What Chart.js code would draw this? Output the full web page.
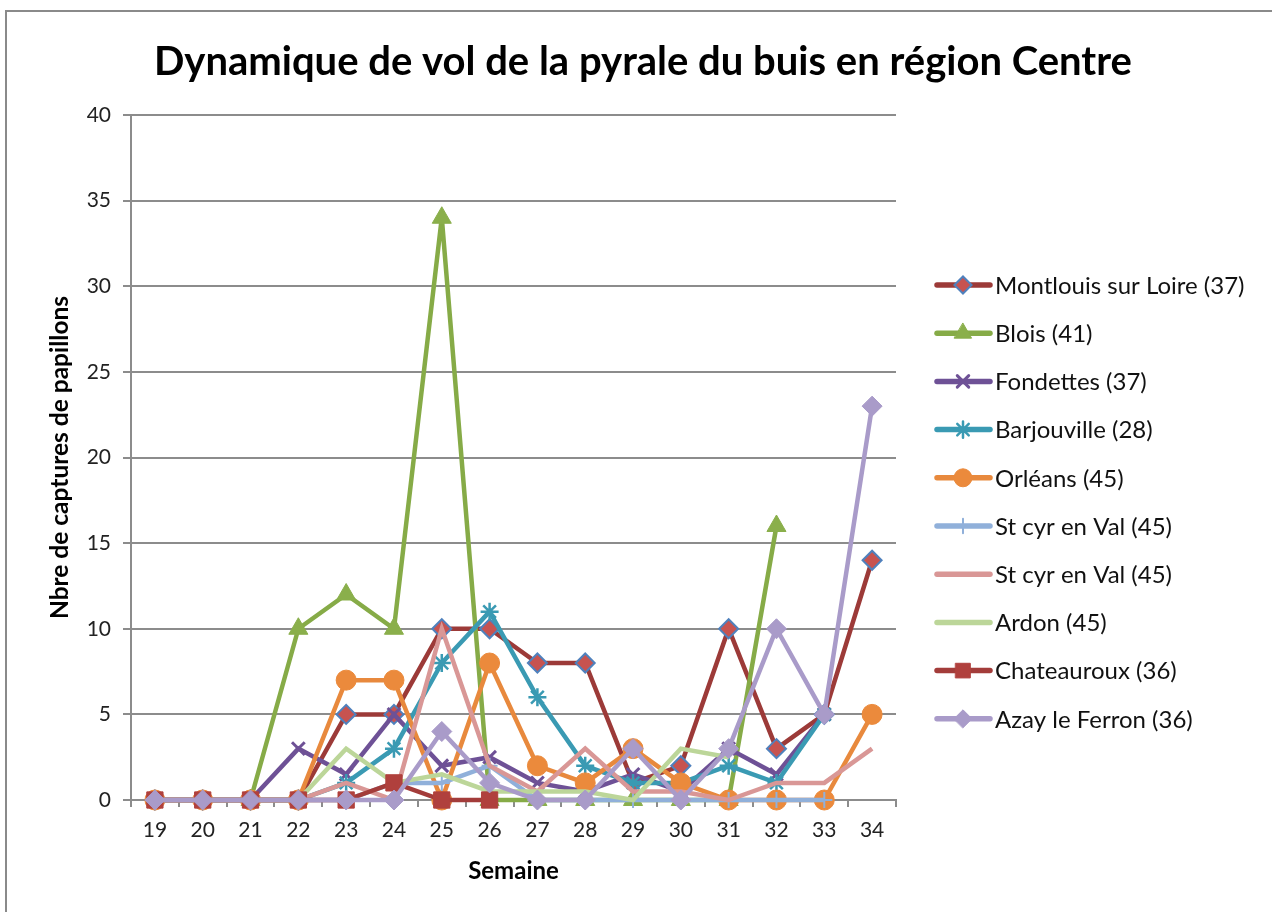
<!DOCTYPE html>
<html><head><meta charset="utf-8">
<script src="https://cdn.jsdelivr.net/npm/chart.js@4.4.1/dist/chart.umd.min.js"></script>
<style>html,body{margin:0;padding:0;background:#fff}canvas{display:block}</style>
</head><body>
<canvas id="c" width="1272" height="912"></canvas>
<script>
const weeks = ['19','20','21','22','23','24','25','26','27','28','29','30','31','32','33','34'];
const montlouis   = [0,0,0,0,5,5,10,10,8,8,1,2,10,3,5,14];
const blois       = [null,null,0,10,12,10,34,0,0,0,0,0,0,16,null,null];
const fondettes   = [0,0,0,3,1.5,5,2,2.5,1,0.5,1.5,0.5,3,1.5,5,null];
const barjouville = [0,0,0,0,1,3,8,11,6,2,1,1,2,1,5,null];
const orleans     = [0,0,0,0,7,7,0,8,2,1,3,1,0,0,0,5];
const stcyr1      = [0,0,0,0,0,1,1,2,0,0,0,0,0,0,0,null];
const stcyr2      = [0,0,0,0,1,0,10,2,0.5,3,0.5,0.5,0,1,1,3];
const ardon       = [0,0,0,0,3,1,1.5,0.5,0.5,0.5,0,3,2.5,null,null,null];
const chateauroux = [0,0,0,0,0,1,0,0,null,null,null,null,null,null,null,null];
const azay        = [0,0,0,0,0,0,4,1,0,0,3,0,3,10,5,23];
const seriesNames = ['Montlouis sur Loire (37)','Blois (41)','Fondettes (37)','Barjouville (28)','Orléans (45)','St cyr en Val (45)','St cyr en Val (45)','Ardon (45)','Chateauroux (36)','Azay le Ferron (36)'];
const chartTitle = 'Dynamique de vol de la pyrale du buis en région Centre';
const yMin = 0, yMax = 40, yStep = 5;

const styles = [
  {line:'#9C3A38', style:'rectRot', r:9.5, fill:'#C75350', border:'#4F81BD', bw:2},
  {line:'#86AB47', style:'triangle', r:11, fill:'#8AAF4B', border:'#8AAF4B', bw:1},
  {line:'#6E5196', style:'crossRot', r:9, fill:'#6E5196', border:'#6E5196', bw:3},
  {line:'#3A9AB3', style:'star', r:9, fill:'#3A9AB3', border:'#3A9AB3', bw:2.5},
  {line:'#E8893D', style:'circle', r:10, fill:'#EB8A3C', border:'#EB8A3C', bw:1},
  {line:'#90B0DA', style:'cross', r:8, fill:'#90B0DA', border:'#90B0DA', bw:2},
  {line:'#D99796', style:'circle', r:0, fill:'#D99796', border:'#D99796', bw:0},
  {line:'#BCD699', style:'circle', r:0, fill:'#BCD699', border:'#BCD699', bw:0},
  {line:'#A33C3A', style:'rect', r:11.5, fill:'#B0403D', border:'#B0403D', bw:1},
  {line:'#A99BC9', style:'rectRot', r:10, fill:'#A99BC9', border:'#A99BC9', bw:1}
];
const values = [montlouis,blois,fondettes,barjouville,orleans,stcyr1,stcyr2,ardon,chateauroux,azay];

const datasets = values.map((v,i)=>({
  label: seriesNames[i],
  data: v,
  borderColor: styles[i].line,
  borderWidth: 4.5,
  pointStyle: styles[i].style,
  pointRadius: styles[i].r,
  pointHoverRadius: styles[i].r,
  pointBackgroundColor: styles[i].fill,
  pointBorderColor: styles[i].border,
  pointBorderWidth: styles[i].bw,
  tension: 0,
  spanGaps: false,
  order: values.length - 1 - i,
  clip: false
}));

const frame = {
  id:'frame',
  beforeDraw(chart){
    const ctx = chart.ctx;
    ctx.save(); ctx.fillStyle='#fff'; ctx.fillRect(0,0,chart.width,chart.height); ctx.restore();
  },
  afterDraw(chart){
    const ctx = chart.ctx;
    ctx.save();
    ctx.strokeStyle='#8a8a8a'; ctx.lineWidth=2;
    ctx.strokeRect(6,11,1400,1000);
    ctx.fillStyle='#000'; ctx.font='bold 40px Lato'; ctx.textAlign='center'; ctx.textBaseline='middle';
    ctx.fillText(chartTitle, 643, 62);
    chart.data.datasets.forEach((ds,i)=>{
      const y = 285 + i*48.2;
      ctx.strokeStyle = ds.borderColor; ctx.lineWidth = 5.5; ctx.lineCap='round';
      ctx.beginPath(); ctx.moveTo(937,y); ctx.lineTo(990,y); ctx.stroke();
      if (ds.pointRadius > 0) {
        ctx.fillStyle = ds.pointBackgroundColor; ctx.strokeStyle = ds.pointBorderColor; ctx.lineWidth = ds.pointBorderWidth;
        Chart.helpers.drawPoint(ctx, {pointStyle: ds.pointStyle, radius: ds.pointRadius*0.9, borderWidth: ds.pointBorderWidth, rotation:0}, 963, y);
      }
      ctx.fillStyle='#111'; ctx.font='24px Lato'; ctx.textBaseline='middle'; ctx.textAlign='left';
      ctx.fillText(ds.label, 995, y+1);
    });
    ctx.restore();
  }
};

new Chart(document.getElementById('c'), {
  type:'line',
  data:{labels:weeks, datasets},
  plugins:[frame],
  options:{
    responsive:false, animation:false,
    layout:{padding:{left:0,right:376,top:115,bottom:0}},
    plugins:{
      legend:{display:false},
      tooltip:{enabled:false},
      title:{display:false}
    },
    scales:{
      x:{
        type:'category', offset:true,
        grid:{display:true, drawOnChartArea:false, drawTicks:true, tickLength:7, offset:true, color:'#8c8c8c', lineWidth:2},
        border:{display:true, color:'#8c8c8c', width:2},
        ticks:{font:{family:'Lato', size:21}, color:'#222', padding:11, maxRotation:0, autoSkip:false},
        title:{display:true, text:'Semaine', color:'#000', font:{family:'Lato', size:24, weight:'bold'}, padding:{top:0,bottom:26}},
        afterFit(s){ s.height = 112; }
      },
      y:{
        min:yMin, max:yMax,
        ticks:{stepSize:yStep, font:{family:'Lato', size:21}, color:'#222', padding:12},
        grid:{color:'#8c8c8c', lineWidth:2, tickLength:8},
        border:{display:true, color:'#8c8c8c', width:2},
        title:{display:true, text:'Nbre de captures de papillons', color:'#000', font:{family:'Lato', size:24.5, weight:'bold'}, padding:{top:45,bottom:0}},
        afterFit(s){ s.width = 131; }
      }
    }
  }
});
</script>
</body></html>
